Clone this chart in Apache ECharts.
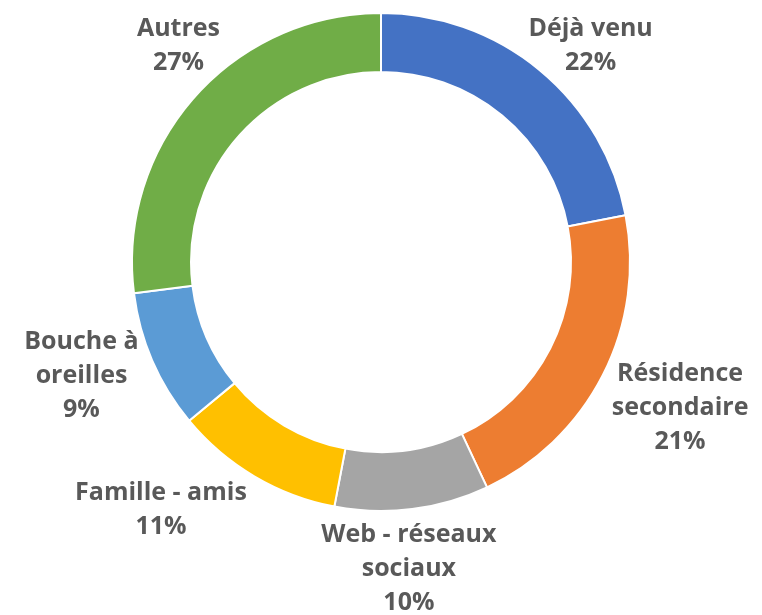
<!DOCTYPE html>
<html>
<head>
<meta charset="utf-8">
<script src="https://cdn.jsdelivr.net/npm/echarts@6/dist/echarts.min.js"></script>
<style>
  html, body { margin: 0; padding: 0; background: #fff; }
  #chart { width: 762px; height: 615px; }
</style>
</head>
<body>
<div id="chart"></div>
<script>
// données du graphique
const categories = ['Déjà venu', 'Résidence\nsecondaire', 'Web - réseaux\nsociaux', 'Famille - amis', 'Bouche à\noreilles', 'Autres'];
const values = [22, 21, 10, 11, 9, 27];
const colors = ['#4472C4', '#ED7D31', '#A5A5A5', '#FFC000', '#5B9BD5', '#70AD47'];

// mise en page
const cx = 381, cy = 262, rIn = 190, rOut = 249;
// petit décalage angulaire des étiquettes (degrés), comme placées dans Excel
const labelNudge = [2, -1, 2, 11, 2.5, 6.5];

const total = values.reduce((a, b) => a + b, 0);

// angle milieu de chaque part (depuis le haut, sens horaire)
const midAngles = [];
let acc = 0;
values.forEach(v => {
  midAngles.push((acc + v / 2) / total * Math.PI * 2);
  acc += v;
});

const myChart = echarts.init(document.getElementById('chart'));
myChart.setOption({
  animation: false,
  series: [
    {
      type: 'pie',
      center: [cx, cy],
      radius: [rIn, rOut],
      startAngle: 90,
      clockwise: true,
      color: colors,
      itemStyle: { borderColor: '#fff', borderWidth: 2 },
      label: {
        show: true,
        position: 'outside',
        formatter: p => p.name + '\n' + p.value + '%',
        fontFamily: 'Open Sans',
        fontWeight: 'bold',
        fontSize: 25,
        lineHeight: 34,
        color: '#595959',
        align: 'center',
        overflow: 'none'
      },
      labelLine: { show: false },
      labelLayout: params => {
        const i = params.dataIndex;
        const a = midAngles[i] + labelNudge[i] * Math.PI / 180;
        const w = params.labelRect.width, h = params.labelRect.height;
        const s = Math.sin(a), c = Math.cos(a);
        const d = rOut + 0.5 * (Math.abs(s) * w + Math.abs(c) * h);
        let x = cx + d * s, y = cy - d * c;
        // garder les étiquettes dans la zone de tracé
        const top = 12;
        if (y - h / 2 < top) y = top + h / 2;
        return { x: x, y: y, align: 'center', verticalAlign: 'middle' };
      },
      data: categories.map((n, i) => ({ name: n, value: values[i] }))
    }
  ]
});
</script>
</body>
</html>
